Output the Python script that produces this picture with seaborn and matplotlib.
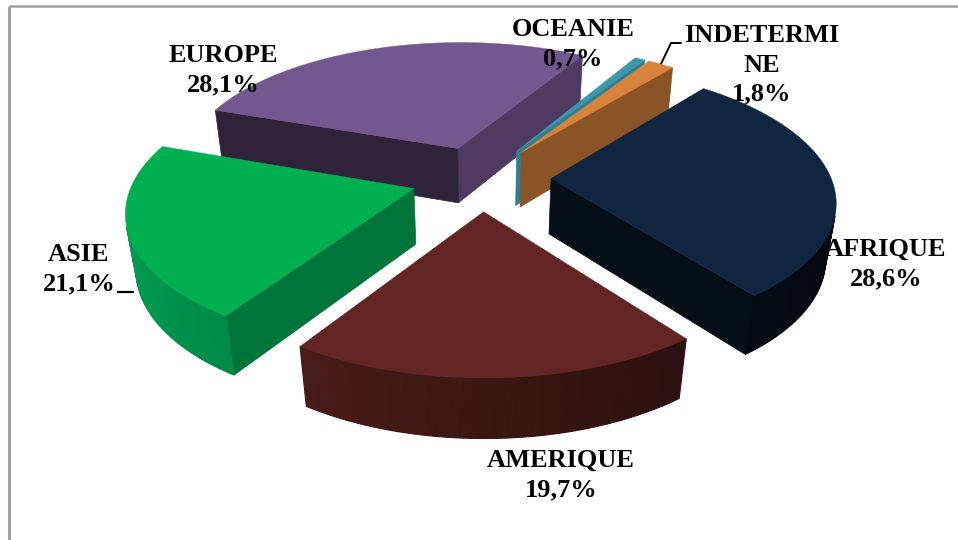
import numpy as np
import seaborn as sns
import matplotlib
matplotlib.use('Agg')
import matplotlib.pyplot as plt

# slices in chart order, clockwise
continents = ['AFRIQUE', 'AMERIQUE', 'ASIE', 'EUROPE', 'OCEANIE', 'INDETERMINE']
shares = [28.6, 19.7, 21.1, 28.1, 0.7, 1.8]
label_texts = ['AFRIQUE\n28,6%', 'AMERIQUE\n19,7%', 'ASIE\n21,1%', 'EUROPE\n28,1%',
               'OCEANIE\n0,7%', 'INDETERMI\nNE\n1,8%']

top_colors = ['#10253f', '#632523', '#00b050', '#71588f', '#3f97ad', '#d9823a']
rim_colors = ['#070f1a', '#3a1614', '#00703a', '#2e2339', '#2c7f94', '#8a5426']
start_colors = ['#060e18', '#4a1c1a', '#00753a', '#2e2339', '#2c6f80', '#8a5426']
end_colors = ['#060e18', '#2a0e0c', '#00753a', '#4f3b62', '#2c7f94', '#8a5426']

label_xy = [(886, 264), (561, 475), (79, 269), (223, 70), (573, 44), (762, 65)]

sns.set_theme(style='white')
plt.rcParams['font.family'] = ['Liberation Serif', 'DejaVu Serif']

# projection of the pie onto the picture
CX, CY = 481, 178
R, K, DEPTH = 280, 130, 57
P, Q = 0.15, 0.03


def project(x, y, z):
    s = 1 / (1 + P * y + Q * z)
    return CX + R * x * s, CY - K * y * s + DEPTH * z * s


def shade(color, amount):
    rgb = np.array(matplotlib.colors.to_rgb(color))
    return tuple(np.clip(rgb * amount, 0, 1))


def side_quad(x_pair, y_pair):
    x0, y0 = project(x_pair, y_pair, 0)
    x1, y1 = project(x_pair, y_pair, 1)
    return np.r_[x0, x1[::-1]], np.r_[y0, y1[::-1]]


def faces_viewer(qx, qy):
    return np.sum(qx * np.roll(qy, -1) - np.roll(qx, -1) * qy) > 0


fig, ax = plt.subplots(figsize=(9.58, 5.40), dpi=100)
fig.subplots_adjust(0, 0, 1, 1)

wedges, _ = ax.pie(shares, explode=[0.25] * 6, startangle=50.5, counterclock=False, radius=1)
ax.set_aspect('auto')
ax.set_xlim(0, 958)
ax.set_ylim(540, 0)
ax.axis('off')

slices = []
for i, w in enumerate(wedges):
    t = np.radians(np.linspace(w.theta1, w.theta2, 120))
    arc_x = w.center[0] + w.r * np.cos(t)
    arc_y = w.center[1] + w.r * np.sin(t)
    slices.append((i, w.center, arc_x, arc_y))
    w.set_visible(False)

# far slices first, so the near ones cover them
slices.sort(key=lambda s: -(s[1][1] + s[3].mean()))

for i, center, arc_x, arc_y in slices:
    cx0, cy0 = center
    # straight cut faces, walking apex -> arc -> apex
    cuts = [
        (np.array([cx0, arc_x[0]]), np.array([cy0, arc_y[0]]), end_colors[i]),
        (np.array([arc_x[-1], cx0]), np.array([arc_y[-1], cy0]), start_colors[i]),
    ]
    for xs, ys, col in cuts:
        qx, qy = side_quad(xs, ys)
        if faces_viewer(qx, qy):
            ax.fill(qx, qy, color=col, lw=0.5, zorder=2)
    for j in range(len(arc_x) - 1):
        xs, ys = arc_x[j:j + 2], arc_y[j:j + 2]
        qx, qy = side_quad(xs, ys)
        if faces_viewer(qx, qy):
            col = shade(rim_colors[i], 1 - 0.4 * (xs.mean() - cx0))
            ax.fill(qx, qy, color=col, lw=0.8, zorder=2)
    tx, ty = project(np.r_[cx0, arc_x], np.r_[cy0, arc_y], 0)
    ax.fill(tx, ty, color=top_colors[i], lw=0.3, zorder=2)

for text, (x, y) in zip(label_texts, label_xy):
    ax.text(x, y, text, ha='center', va='center', fontsize=19, fontweight='bold',
            color='black', linespacing=1.35, zorder=5)

# leader lines
ax.plot([118, 133], [292, 292], color='black', lw=1.6, zorder=1)
ax.plot([660, 671, 681], [66, 43, 43], color='black', lw=1.4, zorder=1)

# chart frame, only left and top are in the picture
ax.plot([9.5, 9.5], [540, 6], color='#a0a0a0', lw=2.2, zorder=0, solid_capstyle='butt')
ax.plot([9, 958], [6, 6], color='#a0a0a0', lw=1.8, zorder=0, solid_capstyle='butt')

fig.savefig('out.png', dpi=100)
plt.close(fig)
